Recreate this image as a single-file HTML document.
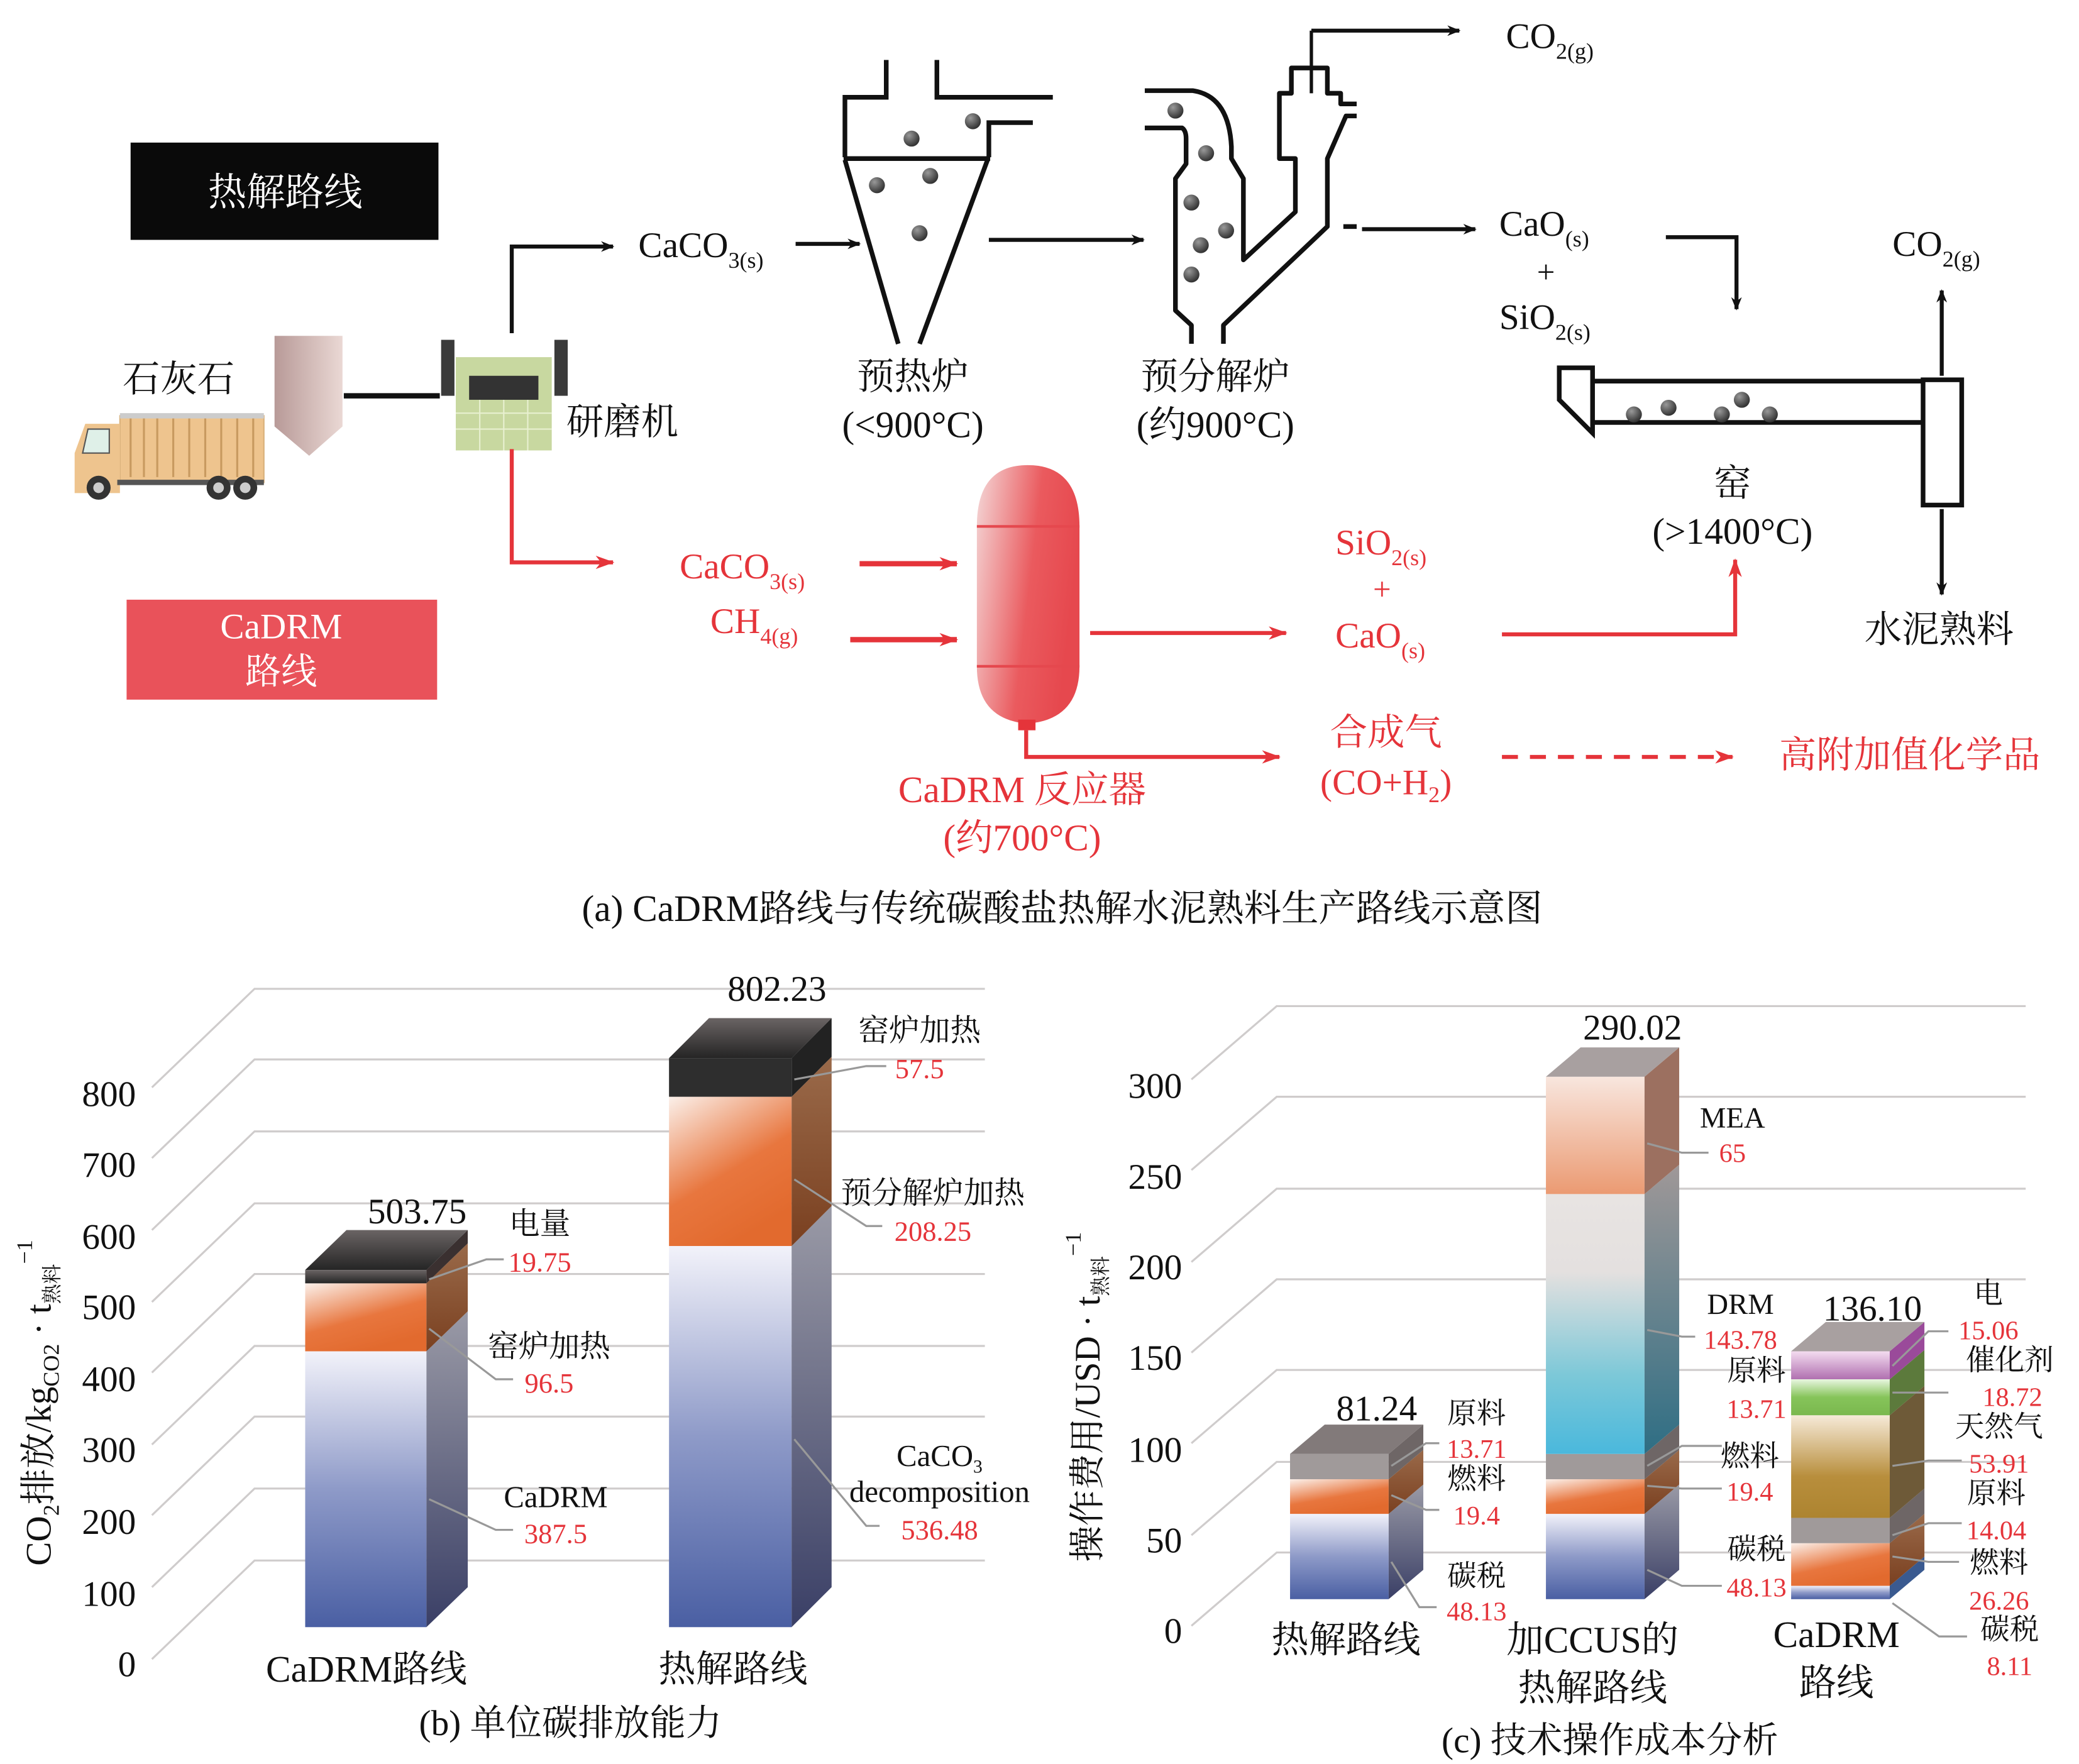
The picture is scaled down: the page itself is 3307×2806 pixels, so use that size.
<!DOCTYPE html>
<html><head><meta charset="utf-8"><style>
html,body{margin:0;padding:0;background:#fff}
svg{display:block}
text{font-family:"Liberation Serif","Noto Serif CJK SC",serif}
</style></head><body>
<svg width="3307" height="2806" viewBox="0 0 1560 1323.7" preserveAspectRatio="none" xmlns="http://www.w3.org/2000/svg">
<defs>
<marker id="ab" markerWidth="10" markerHeight="8" refX="9" refY="4" orient="auto" markerUnits="userSpaceOnUse"><path d="M0,0 L10,4 L0,8 L3,4 Z" fill="#111"/></marker>
<marker id="ar" markerWidth="14" markerHeight="10" refX="13" refY="5" orient="auto" markerUnits="userSpaceOnUse"><path d="M0,0 L14,5 L0,10 L4,5 Z" fill="#e5343a"/></marker>
<radialGradient id="ball" cx="0.35" cy="0.3" r="0.7"><stop offset="0" stop-color="#999"/><stop offset="1" stop-color="#333"/></radialGradient>
<linearGradient id="reac" x1="0" y1="0" x2="1" y2="0.3"><stop offset="0" stop-color="#f4d8d8"/><stop offset="0.6" stop-color="#ea5a5e"/><stop offset="1" stop-color="#e6484e"/></linearGradient>
<linearGradient id="blue" x1="0" y1="0" x2="0" y2="1"><stop offset="0" stop-color="#f2f2fa"/><stop offset="0.5" stop-color="#8e9ac8"/><stop offset="1" stop-color="#4a5fa3"/></linearGradient>
<linearGradient id="blueS" x1="0" y1="0" x2="0" y2="1"><stop offset="0" stop-color="#9a9aa6"/><stop offset="1" stop-color="#3a3f66"/></linearGradient>
<linearGradient id="org" x1="0" y1="0" x2="0.5" y2="1"><stop offset="0" stop-color="#fbf0ea"/><stop offset="0.6" stop-color="#e8763e"/><stop offset="1" stop-color="#e26a2e"/></linearGradient>
<linearGradient id="orgS" x1="0" y1="0" x2="0" y2="1"><stop offset="0" stop-color="#9a6a4a"/><stop offset="1" stop-color="#7a4020"/></linearGradient>
<linearGradient id="dark" x1="0" y1="0" x2="0" y2="1"><stop offset="0" stop-color="#6a6464"/><stop offset="1" stop-color="#252525"/></linearGradient>
<linearGradient id="cyan" x1="0" y1="0" x2="0" y2="1"><stop offset="0" stop-color="#e8e4e2"/><stop offset="0.3" stop-color="#e4e0df"/><stop offset="0.7" stop-color="#7cc8d8"/><stop offset="1" stop-color="#4ab8dc"/></linearGradient>
<linearGradient id="cyanS" x1="0" y1="0" x2="0" y2="1"><stop offset="0" stop-color="#a09898"/><stop offset="1" stop-color="#2e6e84"/></linearGradient>
<linearGradient id="peach" x1="0" y1="0" x2="0" y2="1"><stop offset="0" stop-color="#f8e6de"/><stop offset="1" stop-color="#eb9a72"/></linearGradient>
<linearGradient id="olive" x1="0" y1="0" x2="0" y2="1"><stop offset="0" stop-color="#f6ead8"/><stop offset="0.6" stop-color="#b88e3c"/><stop offset="1" stop-color="#ad8430"/></linearGradient>
<linearGradient id="green" x1="0" y1="0" x2="0" y2="1"><stop offset="0" stop-color="#e8f6e0"/><stop offset="0.5" stop-color="#86c45a"/><stop offset="1" stop-color="#7ab84e"/></linearGradient>
<linearGradient id="purp" x1="0" y1="0" x2="0" y2="1"><stop offset="0" stop-color="#f4dcf0"/><stop offset="1" stop-color="#b070b0"/></linearGradient>
<linearGradient id="silo" x1="0" y1="0" x2="1" y2="0"><stop offset="0" stop-color="#b89a98"/><stop offset="1" stop-color="#ead8d4"/></linearGradient>
</defs>

<!-- ===== (a) ===== -->
<rect x="98" y="107" width="231" height="73" fill="#0a0a0a"/>
<text x="214" y="154" font-size="29" fill="#fff" text-anchor="middle">热解路线</text>
<rect x="95" y="450" width="233" height="75" fill="#e9525a"/>
<text x="211" y="479" font-size="27" fill="#fff" text-anchor="middle">CaDRM</text>
<text x="211" y="513" font-size="27" fill="#fff" text-anchor="middle">路线</text>

<text x="92" y="294" font-size="28" fill="#111">石灰石</text>
<!-- truck -->
<rect x="90" y="312" width="108" height="50" fill="#eec48e" stroke="#d9b07a"/>
<rect x="90" y="310" width="108" height="4" fill="#ccc"/>
<g stroke="#c89a60" stroke-width="1.5"><line x1="98" y1="314" x2="98" y2="358"/><line x1="108" y1="314" x2="108" y2="358"/><line x1="118" y1="314" x2="118" y2="358"/><line x1="130" y1="314" x2="130" y2="358"/><line x1="142" y1="314" x2="142" y2="358"/><line x1="154" y1="314" x2="154" y2="358"/><line x1="166" y1="314" x2="166" y2="358"/><line x1="178" y1="314" x2="178" y2="358"/><line x1="190" y1="314" x2="190" y2="358"/></g>
<path d="M56,370 V340 L64,318 H90 V370 Z" fill="#eec48e"/>
<path d="M66,322 H82 V340 H62 Z" fill="#dff0e8" stroke="#555" stroke-width="1"/>
<rect x="88" y="360" width="110" height="4" fill="#555"/>
<circle cx="74" cy="366" r="9" fill="#333"/><circle cx="74" cy="366" r="4" fill="#ccc"/>
<circle cx="164" cy="366" r="9" fill="#333"/><circle cx="164" cy="366" r="4" fill="#ccc"/>
<circle cx="184" cy="366" r="9" fill="#333"/><circle cx="184" cy="366" r="4" fill="#ccc"/>
<!-- silo -->
<path d="M206,252 H257 V320 L232,342 L206,320 Z" fill="url(#silo)"/>
<line x1="258" y1="297" x2="330" y2="297" stroke="#111" stroke-width="4"/>
<!-- grinder -->
<rect x="331" y="255" width="10" height="42" fill="#3a3a3a"/>
<rect x="416" y="255" width="10" height="42" fill="#3a3a3a"/>
<rect x="342" y="268" width="72" height="70" fill="#c8d8a0"/>
<rect x="352" y="282" width="52" height="18" fill="#333"/>
<g stroke="#e8f0d0" stroke-width="1"><line x1="342" y1="310" x2="414" y2="310"/><line x1="342" y1="322" x2="414" y2="322"/><line x1="360" y1="300" x2="360" y2="338"/><line x1="378" y1="300" x2="378" y2="338"/><line x1="396" y1="300" x2="396" y2="338"/></g>
<text x="425" y="326" font-size="28" fill="#111">研磨机</text>

<!-- black flow -->
<polyline points="384,250 384,185 460,185" fill="none" stroke="#111" stroke-width="3" marker-end="url(#ab)"/>
<text x="479" y="193" font-size="27" fill="#111">CaCO<tspan font-size="17" dy="8">3(s)</tspan></text>
<line x1="597" y1="183" x2="645" y2="183" stroke="#111" stroke-width="3" marker-end="url(#ab)"/>
<!-- preheater -->
<g fill="none" stroke="#111" stroke-width="3.5">
<polyline points="665,45 665,73 634,73 634,118"/>
<polyline points="703,45 703,73 790,73"/>
<polyline points="742,118 742,92 775,92"/>
<line x1="633" y1="119" x2="743" y2="119"/>
<line x1="634" y1="120" x2="674" y2="258"/>
<line x1="741" y1="120" x2="690" y2="258"/>
</g>
<g fill="url(#ball)"><circle cx="684" cy="104" r="6"/><circle cx="730" cy="91" r="6"/><circle cx="658" cy="139" r="6"/><circle cx="698" cy="132" r="6"/><circle cx="690" cy="175" r="6"/></g>
<line x1="742" y1="180" x2="858" y2="180" stroke="#111" stroke-width="3" marker-end="url(#ab)"/>
<!-- precalciner -->
<g fill="none" stroke="#111" stroke-width="3.5" stroke-linejoin="round">
<path d="M859,68 H895 Q922,72 924,110 V119 L933,134 V195 L972,159 V119 L960,119 V70 H969 V51 H996 V70 H1006 V78 H1018"/>
<path d="M859,96 H887 Q890,98 890,104 V123 L882,134 V233 L894,244 V258"/>
<path d="M918,258 V244 L996,170 V119 L1010,87 H1018"/>
<path d="M1008,170 H1018"/>
</g>
<line x1="984" y1="70" x2="984" y2="23" stroke="#111" stroke-width="2.5"/>
<line x1="984" y1="23" x2="1095" y2="23" stroke="#111" stroke-width="3" marker-end="url(#ab)"/>
<g fill="url(#ball)"><circle cx="882" cy="83" r="6"/><circle cx="905" cy="115" r="6"/><circle cx="894" cy="152" r="6"/><circle cx="920" cy="173" r="6"/><circle cx="901" cy="184" r="6"/><circle cx="894" cy="206" r="6"/></g>
<text x="1130" y="36" font-size="27" fill="#111">CO<tspan font-size="17" dy="8">2(g)</tspan></text>
<line x1="1022" y1="172" x2="1107" y2="172" stroke="#111" stroke-width="3" marker-end="url(#ab)"/>
<text x="1125" y="177" font-size="27" fill="#111">CaO<tspan font-size="17" dy="8">(s)</tspan></text>
<text x="1160" y="212" font-size="24" fill="#111" text-anchor="middle">+</text>
<text x="1125" y="247" font-size="27" fill="#111">SiO<tspan font-size="17" dy="8">2(s)</tspan></text>
<polyline points="1250,178 1303,178 1303,232" fill="none" stroke="#111" stroke-width="3" marker-end="url(#ab)"/>
<!-- kiln -->
<g fill="none" stroke="#111" stroke-width="3.5">
<path d="M1195,276 H1170 V300 L1195,325 Z"/>
<line x1="1195" y1="286" x2="1443" y2="286"/>
<line x1="1195" y1="317" x2="1443" y2="317"/>
<rect x="1443" y="285" width="29" height="94"/>
</g>
<g fill="url(#ball)"><circle cx="1226" cy="311" r="6"/><circle cx="1252" cy="306" r="6"/><circle cx="1292" cy="311" r="6"/><circle cx="1307" cy="300" r="6"/><circle cx="1328" cy="311" r="6"/></g>
<line x1="1457" y1="282" x2="1457" y2="218" stroke="#111" stroke-width="3" marker-end="url(#ab)"/>
<text x="1420" y="192" font-size="27" fill="#111">CO<tspan font-size="17" dy="8">2(g)</tspan></text>
<line x1="1457" y1="382" x2="1457" y2="446" stroke="#111" stroke-width="3" marker-end="url(#ab)"/>
<text x="1455" y="482" font-size="28" fill="#111" text-anchor="middle">水泥熟料</text>
<text x="1300" y="372" font-size="28" fill="#111" text-anchor="middle">窑</text>
<text x="1300" y="408" font-size="28" fill="#111" text-anchor="middle">(&gt;1400°C)</text>
<text x="685" y="292" font-size="28" fill="#111" text-anchor="middle">预热炉</text>
<text x="685" y="328" font-size="28" fill="#111" text-anchor="middle">(&lt;900°C)</text>
<text x="912" y="292" font-size="28" fill="#111" text-anchor="middle">预分解炉</text>
<text x="912" y="328" font-size="28" fill="#111" text-anchor="middle">(约900°C)</text>

<!-- red flow -->
<polyline points="384,337 384,422 460,422" fill="none" stroke="#e5343a" stroke-width="3" marker-end="url(#ar)"/>
<text x="510" y="434" font-size="27" fill="#e5343a">CaCO<tspan font-size="17" dy="8">3(s)</tspan></text>
<text x="533" y="475" font-size="27" fill="#e5343a">CH<tspan font-size="17" dy="8">4(g)</tspan></text>
<line x1="645" y1="423" x2="718" y2="423" stroke="#e5343a" stroke-width="4" marker-end="url(#ar)"/>
<line x1="638" y1="480" x2="718" y2="480" stroke="#e5343a" stroke-width="4" marker-end="url(#ar)"/>
<path d="M733,395 Q733,349 771,349 Q810,349 810,395 V500 Q810,540 771,543 Q733,540 733,500 Z" fill="url(#reac)"/>
<line x1="733" y1="395" x2="810" y2="395" stroke="#e5484e" stroke-width="2"/>
<line x1="733" y1="500" x2="810" y2="500" stroke="#e5484e" stroke-width="2"/>
<rect x="764" y="540" width="13" height="8" fill="#e5343a"/>
<polyline points="770,548 770,568 960,568" fill="none" stroke="#e5343a" stroke-width="3" marker-end="url(#ar)"/>
<line x1="818" y1="475" x2="965" y2="475" stroke="#e5343a" stroke-width="3" marker-end="url(#ar)"/>
<text x="1002" y="416" font-size="27" fill="#e5343a">SiO<tspan font-size="17" dy="8">2(s)</tspan></text>
<text x="1037" y="450" font-size="24" fill="#e5343a" text-anchor="middle">+</text>
<text x="1002" y="486" font-size="27" fill="#e5343a">CaO<tspan font-size="17" dy="8">(s)</tspan></text>
<polyline points="1127,476 1302,476 1302,420" fill="none" stroke="#e5343a" stroke-width="3" marker-end="url(#ar)"/>
<text x="1040" y="559" font-size="28" fill="#e5343a" text-anchor="middle">合成气</text>
<text x="1040" y="596" font-size="27" fill="#e5343a" text-anchor="middle">(CO+H<tspan font-size="17" dy="6">2</tspan><tspan dy="-6">)</tspan></text>
<line x1="1127" y1="568" x2="1300" y2="568" stroke="#e5343a" stroke-width="3" stroke-dasharray="12,9" marker-end="url(#ar)"/>
<text x="1335" y="576" font-size="28" fill="#e5343a">高附加值化学品</text>
<text x="767" y="602" font-size="28" fill="#e5343a" text-anchor="middle">CaDRM 反应器</text>
<text x="767" y="638" font-size="28" fill="#e5343a" text-anchor="middle">(约700°C)</text>
<text x="797" y="691" font-size="28" fill="#111" text-anchor="middle">(a) CaDRM路线与传统碳酸盐热解水泥熟料生产路线示意图</text>

<!-- ===== (b) ===== -->
<g stroke="#cfcccc" stroke-width="1.5" fill="none">
<polyline points="114,816 191,742 739,742"/>
<polyline points="114,869 191,795 739,795"/>
<polyline points="114,923 191,849 739,849"/>
<polyline points="114,977 191,903 739,903"/>
<polyline points="114,1030 191,956 739,956"/>
<polyline points="114,1084 191,1010 739,1010"/>
<polyline points="114,1137 191,1063 739,1063"/>
<polyline points="114,1191 191,1117 739,1117"/>
<polyline points="114,1245 191,1171 739,1171"/>
</g>
<g font-size="27" fill="#111" text-anchor="end">
<text x="102" y="830">800</text><text x="102" y="883">700</text><text x="102" y="937">600</text><text x="102" y="990">500</text><text x="102" y="1044">400</text><text x="102" y="1097">300</text><text x="102" y="1151">200</text><text x="102" y="1205">100</text><text x="102" y="1258">0</text>
</g>
<text transform="translate(38,1175) rotate(-90)" font-size="27" fill="#111">CO<tspan font-size="17" dy="6">2</tspan><tspan dy="-6">排放/kg</tspan><tspan font-size="17" dy="6">CO2</tspan><tspan dy="-6"> · t</tspan><tspan font-size="15" dy="6">熟料</tspan><tspan font-size="17" dy="-20">−1</tspan></text>

<!-- bar b1 -->
<rect x="229" y="1014" width="91" height="207" fill="url(#blue)"/>
<polygon points="320,1014 351,984 351,1191 320,1221" fill="url(#blueS)"/>
<rect x="229" y="963" width="91" height="51" fill="url(#org)"/>
<polygon points="320,963 351,933 351,984 320,1014" fill="url(#orgS)"/>
<rect x="229" y="953" width="91" height="10" fill="url(#dark)"/>
<polygon points="320,953 351,923 351,933 320,963" fill="#3a3030"/>
<polygon points="229,953 260,923 351,923 320,953" fill="url(#dark)"/>
<!-- bar b2 -->
<rect x="502" y="935" width="92" height="286" fill="url(#blue)"/>
<polygon points="594,935 624,905 624,1191 594,1221" fill="url(#blueS)"/>
<rect x="502" y="823" width="92" height="112" fill="url(#org)"/>
<polygon points="594,823 624,793 624,905 594,935" fill="url(#orgS)"/>
<rect x="502" y="794" width="92" height="29" fill="#2e2e2e"/>
<polygon points="594,794 624,764 624,793 594,823" fill="#222"/>
<polygon points="502,794 532,764 624,764 594,794" fill="url(#dark)"/>
<g stroke="#999" stroke-width="1.5" fill="none">
<polyline points="322,960 365,945 378,945"/>
<polyline points="322,997 372,1035 385,1035"/>
<polyline points="322,1125 372,1148 385,1148"/>
<polyline points="596,810 650,800 665,800"/>
<polyline points="596,885 650,920 662,920"/>
<polyline points="596,1080 650,1145 660,1145"/>
</g>
<g font-size="23" fill="#111" text-anchor="middle">
<text x="313" y="918" font-size="27">503.75</text>
<text x="583" y="751" font-size="27">802.23</text>
<text x="405" y="926">电量</text>
<text x="412" y="1018">窑炉加热</text>
<text x="417" y="1131">CaDRM</text>
<text x="690" y="781">窑炉加热</text>
<text x="700" y="903">预分解炉加热</text>
<text x="705" y="1100">CaCO<tspan font-size="14" dy="5">3</tspan></text>
<text x="705" y="1127">decomposition</text>
</g>
<g font-size="21" fill="#e5343a" text-anchor="middle">
<text x="405" y="954">19.75</text><text x="412" y="1045">96.5</text><text x="417" y="1158">387.5</text>
<text x="690" y="809">57.5</text><text x="700" y="931">208.25</text><text x="705" y="1155">536.48</text>
</g>
<text x="275" y="1262" font-size="28" fill="#111" text-anchor="middle">CaDRM路线</text>
<text x="550" y="1262" font-size="28" fill="#111" text-anchor="middle">热解路线</text>
<text x="428" y="1302" font-size="27" fill="#111" text-anchor="middle">(b) 单位碳排放能力</text>

<!-- ===== (c) ===== -->
<g stroke="#cfcccc" stroke-width="1.5" fill="none">
<polyline points="894,810 958,755 1520,755"/>
<polyline points="894,878 958,823 1520,823"/>
<polyline points="894,947 958,892 1520,892"/>
<polyline points="894,1015 958,960 1520,960"/>
<polyline points="894,1083 958,1028 1520,1028"/>
<polyline points="894,1152 958,1097 1520,1097"/>
<polyline points="894,1220 958,1165 1520,1165"/>
</g>
<g font-size="27" fill="#111" text-anchor="end">
<text x="887" y="824">300</text><text x="887" y="892">250</text><text x="887" y="960">200</text><text x="887" y="1028">150</text><text x="887" y="1097">100</text><text x="887" y="1165">50</text><text x="887" y="1233">0</text>
</g>
<text transform="translate(825,1172) rotate(-90)" font-size="27" fill="#111">操作费用/USD · t<tspan font-size="15" dy="6">熟料</tspan><tspan font-size="17" dy="-20">−1</tspan></text>

<!-- bar c1 -->
<rect x="968" y="1136" width="74" height="64" fill="url(#blue)"/>
<polygon points="1042,1136 1068,1114 1068,1178 1042,1200" fill="url(#blueS)"/>
<rect x="968" y="1110" width="74" height="26" fill="url(#org)"/>
<polygon points="1042,1110 1068,1088 1068,1114 1042,1136" fill="url(#orgS)"/>
<rect x="968" y="1091" width="74" height="19" fill="#a09a9a"/>
<polygon points="1042,1091 1068,1069 1068,1088 1042,1110" fill="#6e6666"/>
<polygon points="968,1091 994,1069 1068,1069 1042,1091" fill="#827a7a"/>
<!-- bar c2 -->
<rect x="1160" y="1136" width="74" height="64" fill="url(#blue)"/>
<polygon points="1234,1136 1260,1114 1260,1178 1234,1200" fill="url(#blueS)"/>
<rect x="1160" y="1110" width="74" height="26" fill="url(#org)"/>
<polygon points="1234,1110 1260,1088 1260,1114 1234,1136" fill="url(#orgS)"/>
<rect x="1160" y="1091" width="74" height="19" fill="#a09a9a"/>
<polygon points="1234,1091 1260,1069 1260,1088 1234,1110" fill="#6e6666"/>
<rect x="1160" y="896" width="74" height="195" fill="url(#cyan)"/>
<polygon points="1234,896 1260,874 1260,1069 1234,1091" fill="url(#cyanS)"/>
<rect x="1160" y="808" width="74" height="88" fill="url(#peach)"/>
<polygon points="1234,808 1260,786 1260,874 1234,896" fill="#9c7060"/>
<polygon points="1160,808 1186,786 1260,786 1234,808" fill="#a8a0a0"/>
<!-- bar c3 -->
<rect x="1344" y="1190" width="74" height="10" fill="url(#blue)"/>
<polygon points="1418,1190 1444,1168 1444,1178 1418,1200" fill="#3a5a90"/>
<rect x="1344" y="1158" width="74" height="32" fill="url(#org)"/>
<polygon points="1418,1158 1444,1136 1444,1168 1418,1190" fill="url(#orgS)"/>
<rect x="1344" y="1139" width="74" height="19" fill="#a09a9a"/>
<polygon points="1418,1139 1444,1117 1444,1136 1418,1158" fill="#6e6666"/>
<rect x="1344" y="1062" width="74" height="77" fill="url(#olive)"/>
<polygon points="1418,1062 1444,1040 1444,1117 1418,1139" fill="#6e5a38"/>
<rect x="1344" y="1035" width="74" height="27" fill="url(#green)"/>
<polygon points="1418,1035 1444,1013 1444,1040 1418,1062" fill="#5c7a3c"/>
<rect x="1344" y="1014" width="74" height="21" fill="url(#purp)"/>
<polygon points="1418,1014 1444,992 1444,1013 1418,1035" fill="#9a4a9a"/>
<polygon points="1344,1014 1370,992 1444,992 1418,1014" fill="#a8a0a0"/>
<g stroke="#999" stroke-width="1.5" fill="none">
<polyline points="1044,1100 1070,1083 1080,1083"/>
<polyline points="1044,1122 1070,1133 1080,1133"/>
<polyline points="1044,1172 1065,1206 1078,1206"/>
<polyline points="1236,858 1262,865 1282,865"/>
<polyline points="1236,998 1262,1003 1272,1003"/>
<polyline points="1236,1100 1262,1085 1292,1085"/>
<polyline points="1236,1115 1262,1117 1292,1117"/>
<polyline points="1236,1178 1262,1190 1292,1190"/>
<polyline points="1420,1025 1447,999 1462,999"/>
<polyline points="1420,1045 1447,1045 1462,1045"/>
<polyline points="1420,1100 1447,1096 1472,1096"/>
<polyline points="1420,1152 1447,1143 1472,1143"/>
<polyline points="1420,1168 1447,1172 1470,1172"/>
<polyline points="1420,1203 1455,1228 1476,1228"/>
</g>
<g font-size="27" fill="#111" text-anchor="middle">
<text x="1033" y="1066">81.24</text><text x="1225" y="780">290.02</text><text x="1405" y="991">136.10</text>
</g>
<g font-size="22" fill="#111" text-anchor="middle">
<text x="1108" y="1068">原料</text><text x="1108" y="1117">燃料</text><text x="1108" y="1190">碳税</text>
<text x="1300" y="846">MEA</text><text x="1306" y="986">DRM</text><text x="1318" y="1036">原料</text><text x="1313" y="1100">燃料</text><text x="1318" y="1170">碳税</text>
<text x="1492" y="978">电</text><text x="1508" y="1028">催化剂</text><text x="1500" y="1078">天然气</text><text x="1498" y="1128">原料</text><text x="1500" y="1180">燃料</text><text x="1508" y="1230">碳税</text>
</g>
<g font-size="20" fill="#e5343a" text-anchor="middle">
<text x="1108" y="1094">13.71</text><text x="1108" y="1144">19.4</text><text x="1108" y="1216">48.13</text>
<text x="1300" y="872">65</text><text x="1306" y="1012">143.78</text><text x="1318" y="1064">13.71</text><text x="1313" y="1126">19.4</text><text x="1318" y="1198">48.13</text>
<text x="1492" y="1005">15.06</text><text x="1510" y="1055">18.72</text><text x="1500" y="1105">53.91</text><text x="1498" y="1155">14.04</text><text x="1500" y="1208">26.26</text><text x="1508" y="1257">8.11</text>
</g>
<g font-size="28" fill="#111" text-anchor="middle">
<text x="1010" y="1240">热解路线</text>
<text x="1195" y="1240">加CCUS的</text><text x="1195" y="1276">热解路线</text>
<text x="1378" y="1236">CaDRM</text><text x="1378" y="1272">路线</text>
</g>
<text x="1208" y="1315" font-size="27" fill="#111" text-anchor="middle">(c) 技术操作成本分析</text>
</svg>
</body></html>
